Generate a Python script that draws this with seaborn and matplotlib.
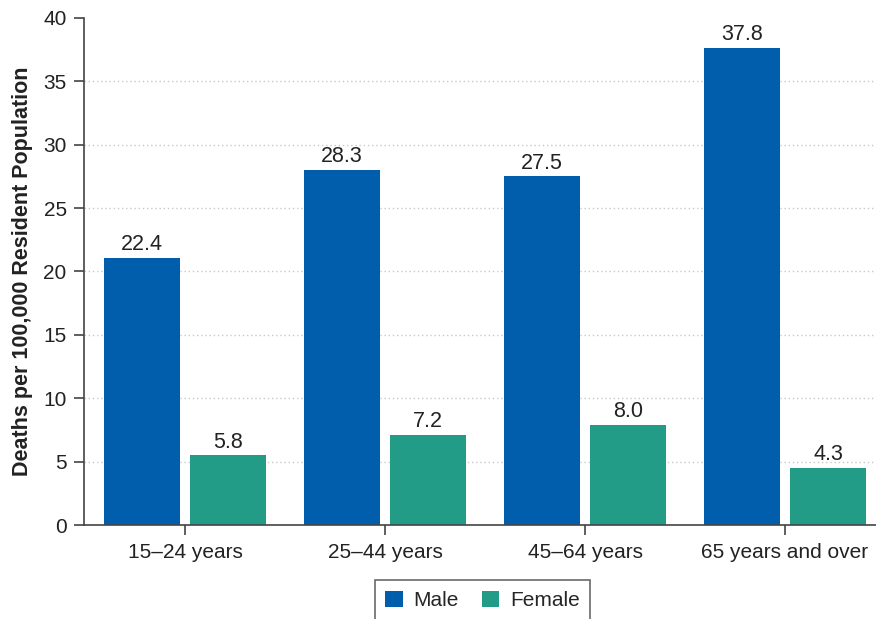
import pandas as pd
import matplotlib.pyplot as plt
import seaborn as sns

# data
age_groups = ['15–24 years', '25–44 years', '45–64 years', '65 years and over']
sexes = ['Male', 'Female']
male_values = [21.1, 28.0, 27.5, 37.6]      # bar heights as drawn
female_values = [5.5, 7.1, 7.9, 4.5]
male_labels = ['22.4', '28.3', '27.5', '37.8']  # printed value labels
female_labels = ['5.8', '7.2', '8.0', '4.3']
y_ticks = [0, 5, 10, 15, 20, 25, 30, 35, 40]

df = pd.DataFrame({
    'age': age_groups * 2,
    'sex': ['Male'] * len(age_groups) + ['Female'] * len(age_groups),
    'rate': male_values + female_values,
})

sns.set_theme(style='white')
plt.rcParams['font.family'] = ['Liberation Sans', 'DejaVu Sans']

fig = plt.figure(figsize=(8.76, 6.19), dpi=100)
ax = fig.add_axes([0.0959, 0.1514, 0.9041, 0.82])

palette = {'Male': '#005EAC', 'Female': '#229B87'}
sns.barplot(data=df, x='age', y='rate', hue='sex', hue_order=sexes,
            palette=palette, width=0.86, gap=0.116, saturation=1,
            linewidth=0, ax=ax)

for cont, labs in zip(ax.containers, [male_labels, female_labels]):
    ax.bar_label(cont, labels=labs, padding=2, fontsize=15.5, color='#222222')

ax.set_ylim(0, 40)
ax.set_xlim(-0.505, 3.455)
ax.set_yticks(y_ticks)
ax.set_xlabel('')
ax.set_ylabel('Deaths per 100,000 Resident Population', fontsize=15.5,
              fontweight='bold', color='#222222', labelpad=7.5)

ax.grid(axis='y', linestyle=(0, (1, 2)), color='#c8c8c8', linewidth=1)
ax.set_axisbelow(True)
ax.get_ygridlines()[-1].set_visible(False)

for s in ['top', 'right']:
    ax.spines[s].set_visible(False)
for s in ['left', 'bottom']:
    ax.spines[s].set_color('#444444')
    ax.spines[s].set_linewidth(1.2)

ax.tick_params(axis='both', which='major', direction='out', length=7,
               width=1.2, color='#444444', labelsize=15, labelcolor='#222222',
               left=True, bottom=True, pad=5.5)

handles, labels = ax.get_legend_handles_labels()
leg = ax.legend(handles, labels, loc='upper center', bbox_to_anchor=(0.503, -0.088),
                ncol=2, frameon=True, fancybox=False, fontsize=15,
                handlelength=0.85, handleheight=0.85, handletextpad=0.5,
                columnspacing=1.1, borderpad=0.5)
leg.get_frame().set_edgecolor('#444444')
leg.get_frame().set_linewidth(1.2)

plt.savefig('out.png', dpi=100)
